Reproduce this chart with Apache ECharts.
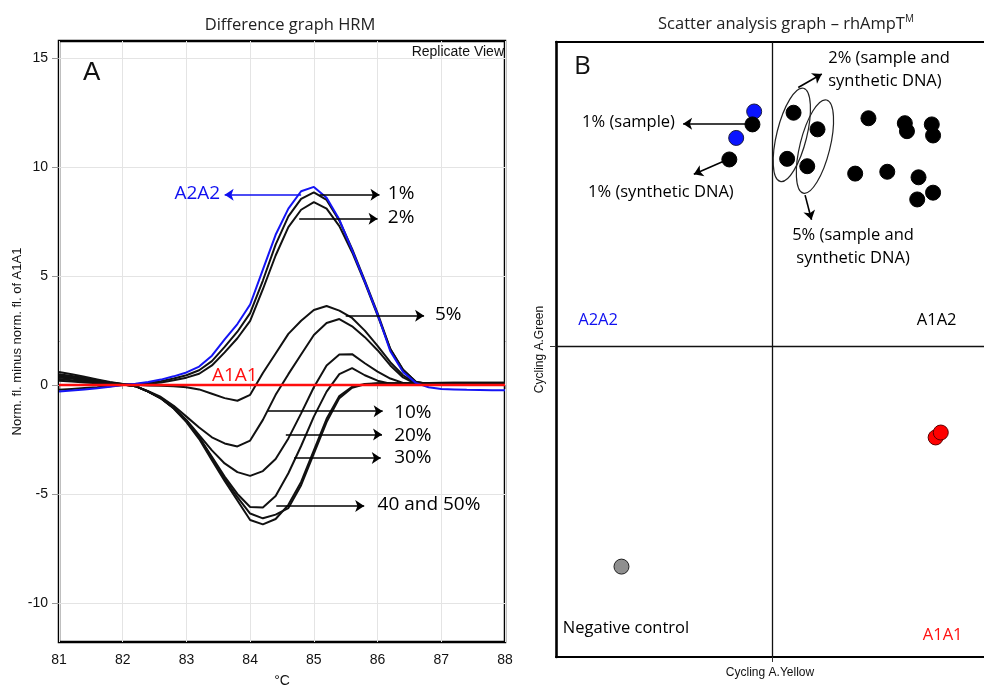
<!DOCTYPE html>
<html><head><meta charset="utf-8">
<script src="https://cdn.jsdelivr.net/npm/echarts@6/dist/echarts.min.js"></script>
<style>html,body{margin:0;padding:0;background:#fff}#c{width:984px;height:693px}</style>
</head><body><div id="c"></div>
<script>
// ---------- Panel A: difference graph HRM ----------
const temps = [81.0,81.2,81.4,81.6,81.8,82.0,82.2,82.4,82.6,82.8,83.0,83.2,83.4,83.6,83.8,84.0,84.2,84.4,84.6,84.8,85.0,85.2,85.4,85.6,85.8,86.0,86.2,86.4,86.6,86.8,87.0,87.2,87.4,87.6,87.8,88.0];
const curveA2A2 = [-0.30,-0.25,-0.20,-0.15,-0.08,0.00,0.06,0.14,0.25,0.40,0.58,0.85,1.35,2.10,2.80,3.70,5.30,6.90,8.10,8.90,9.10,8.60,7.60,6.20,4.75,3.25,1.55,0.60,0.10,-0.10,-0.18,-0.20,-0.22,-0.23,-0.24,-0.24];
const curveA1A1 = [0,0,0,0,0,0,0,0,0,0,0,0,0,0,0,0,0,0,0,0,0,0,0,0,0,0,0,0,0,0,0,0,0,0,0,0];
const curve1 = [-0.22,-0.18,-0.14,-0.10,-0.05,0.00,0.04,0.10,0.18,0.30,0.45,0.68,1.10,1.75,2.45,3.30,4.80,6.45,7.75,8.55,8.85,8.50,7.55,6.25,4.80,3.30,1.65,0.70,0.15,0.04,0.02,0.02,0.02,0.03,0.03,0.03];
const curve2 = [0.20,0.16,0.12,0.08,0.04,0.02,0.02,0.06,0.12,0.22,0.34,0.52,0.90,1.50,2.15,2.95,4.40,5.95,7.25,8.05,8.40,8.10,7.30,6.10,4.70,3.20,1.65,0.70,0.15,0.05,0.03,0.03,0.04,0.04,0.04,0.04];
const curve5 = [0.40,0.33,0.26,0.19,0.11,0.05,0.01,-0.02,-0.03,-0.05,-0.10,-0.20,-0.40,-0.60,-0.72,-0.45,0.55,1.45,2.35,2.95,3.45,3.63,3.42,3.08,2.50,1.80,1.05,0.45,0.08,0.04,0.03,0.03,0.04,0.05,0.05,0.05];
const curve10 = [0.50,0.42,0.32,0.22,0.12,0.04,-0.05,-0.28,-0.55,-0.95,-1.45,-1.95,-2.40,-2.68,-2.82,-2.55,-1.60,-0.45,0.50,1.40,2.30,2.85,3.03,2.70,2.20,1.60,0.90,0.35,0.06,0.04,0.04,0.05,0.05,0.06,0.06,0.06];
const curve20 = [0.60,0.50,0.38,0.26,0.14,0.05,-0.05,-0.30,-0.60,-1.05,-1.60,-2.30,-3.00,-3.60,-4.00,-4.17,-3.95,-3.40,-2.45,-1.30,-0.10,0.90,1.40,1.42,1.00,0.62,0.30,0.10,0.03,0.04,0.05,0.05,0.06,0.06,0.06,0.06];
const curve30 = [0.45,0.38,0.30,0.20,0.10,0.03,-0.05,-0.30,-0.60,-1.05,-1.65,-2.40,-3.30,-4.20,-5.00,-5.60,-5.62,-5.10,-4.05,-2.80,-1.45,-0.30,0.50,0.78,0.45,0.20,0.06,0.03,0.03,0.04,0.05,0.05,0.05,0.06,0.06,0.06];
const curve40 = [0.35,0.29,0.23,0.16,0.09,0.03,-0.05,-0.30,-0.60,-1.05,-1.65,-2.40,-3.35,-4.30,-5.15,-5.90,-6.12,-5.95,-5.65,-4.60,-3.15,-1.70,-0.60,-0.12,0.03,0.07,0.08,0.08,0.08,0.09,0.09,0.10,0.10,0.10,0.10,0.10];
const curve50 = [0.28,0.22,0.17,0.12,0.07,0.02,-0.05,-0.30,-0.62,-1.08,-1.70,-2.48,-3.45,-4.40,-5.30,-6.20,-6.40,-6.15,-5.50,-4.45,-3.00,-1.55,-0.50,-0.08,0.05,0.08,0.08,0.08,0.09,0.09,0.10,0.10,0.10,0.10,0.11,0.11];
const yTicksA = [-10,-5,0,5,10,15];

// ---------- Panel B: scatter analysis ----------
const ptsA2A2 = [[46.3,88.7],[42.1,84.4]];
const ptsA1A2 = [[45.9,86.6],[40.5,80.9],[55.5,88.5],[54.0,81.0],[61.1,85.8],[58.7,79.8],[73.0,87.6],[81.5,86.8],[82.0,85.5],[87.8,86.6],[88.1,84.8],[69.9,78.6],[77.4,78.9],[84.7,78.0],[84.4,74.4],[88.1,75.5]];
const ptsA1A1 = [[88.7,35.7],[89.9,36.5]];
const ptsNeg = [[15.3,14.7]];
const thresholdX = 50.6;
const thresholdY = 50.5;

// annotations (data coordinates)
const arrowsA = [[84.8,8.74,83.6,8.74,'#1010f0'],[85.09,8.74,86.03,8.74,'#000'],[84.77,7.64,86.0,7.64,'#000'],[85.5,3.18,86.73,3.18,'#000'],[84.28,-1.2,86.08,-1.2,'#000'],[84.56,-2.27,86.07,-2.27,'#000'],[84.69,-3.35,86.05,-3.35,'#000'],[84.41,-5.55,85.79,-5.55,'#000']];
const notesA = [['A2A2',83.53,8.78,'#1010f0','right'],['1%',86.16,8.78,'#000','left'],['2%',86.16,7.68,'#000','left'],['5%',86.9,3.22,'#000','left'],['10%',86.26,-1.25,'#000','left'],['20%',86.26,-2.3,'#000','left'],['30%',86.26,-3.35,'#000','left'],['40 and 50%',86.0,-5.5,'#000','left'],['A1A1',83.4,0.45,'#ff1010','left']];
const arrowsB = [[45.9,86.7,29.7,86.7],[40.5,81.0,32.2,78.5],[56.6,92.6,62.1,94.8],[58.2,75.1,59.7,71.1]];
const notesB = [['1% (sample)',27.8,86.9,'#000','right'],['1% (synthetic DNA)',24.5,75.5,'#000','center'],['2% (sample and\nsynthetic DNA)',63.6,95.5,'#000','left'],['5% (sample and\nsynthetic DNA)',69.4,66.7,'#000','center'],['A2A2',5.2,54.7,'#1010f0','left'],['A1A2',84.3,54.7,'#000','left'],['Negative control',1.6,4.7,'#000','left'],['A1A1',85.7,3.6,'#ff1010','left']];
const ellipsesB = [[55.1,84.9],[60.5,83.0]];

const pair = arr => temps.map((t,i)=>[t,arr[i]]);
const lineS = (name, arr, color, w, z) => ({name, type:'line', xAxisIndex:0, yAxisIndex:0, data:pair(arr), symbol:'none', smooth:false, lineStyle:{color, width:w}, z, silent:true});
const noteSeries = (notes, idx, size) => ({type:'scatter', xAxisIndex:idx, yAxisIndex:idx, symbolSize:0, z:20, silent:true,
  itemStyle:{color:'#000'},
  data: notes.map(n=>({value:[n[1],n[2]], label:{show:true, position:'inside', formatter:n[0], color:n[3], align:n[4], verticalAlign:'middle',
    fontFamily:'Open Sans', fontSize:size, lineHeight:23, textBorderWidth:0, textBorderColor:'transparent', opacity:1}}))});
const arrowSeries = (arrows, idx) => ({type:'line', xAxisIndex:idx, yAxisIndex:idx, data:[], z:15, silent:true,
  markLine:{silent:true, symbol:['none','arrow'], symbolSize:9, label:{show:false}, animation:false,
    data: arrows.map(a=>[{coord:[a[0],a[1]], lineStyle:{color:a[4]||'#000', width:1.6, type:'solid'}},{coord:[a[2],a[3]]}])}});
const ptS = (data, color, border) => ({type:'scatter', xAxisIndex:1, yAxisIndex:1, data, symbolSize:15, z:10, silent:true, itemStyle:{color, borderColor:border, borderWidth:1, opacity:1}});
const frameLine = {show:true, onZero:false, lineStyle:{color:'#000', width:2.2}};

const option = {
  animation:false,
  backgroundColor:'#fff',
  grid:[
    {left:59, top:41, width:446, height:612, show:true, borderColor:'#000', borderWidth:2.5, backgroundColor:'transparent'},
    {left:556, top:42, right:0, height:615, show:false}
  ],
  xAxis:[
    {type:'value', gridIndex:0, min:81, max:88, interval:1, name:'°C', nameLocation:'middle', nameGap:32,
     nameTextStyle:{fontFamily:'Liberation Sans', fontSize:14, color:'#111'},
     axisLine:{show:false}, axisTick:{show:true, length:4, lineStyle:{color:'#999'}},
     axisLabel:{fontFamily:'Liberation Sans', fontSize:14, color:'#111', margin:11},
     splitLine:{show:true, lineStyle:{color:'#e4e4e4', width:1}}},
    {type:'value', gridIndex:1, min:0, max:100, position:'bottom', name:'Cycling A.Yellow', nameLocation:'middle', nameGap:10,
     nameTextStyle:{fontFamily:'Liberation Sans', fontSize:12, color:'#111'},
     axisLine:frameLine, axisTick:{show:true, customValues:[thresholdX], length:5, lineStyle:{color:'#333'}},
     axisLabel:{show:false}, splitLine:{show:false}},
    {type:'value', gridIndex:1, min:0, max:100, position:'top',
     axisLine:frameLine, axisTick:{show:false}, axisLabel:{show:false}, splitLine:{show:false}}
  ],
  yAxis:[
    {type:'value', gridIndex:0, min:-11.8, max:15.8, name:'Norm. fl. minus norm. fl. of A1A1', nameLocation:'middle', nameGap:33, nameRotate:90,
     nameTextStyle:{fontFamily:'Liberation Sans', fontSize:13, color:'#111'},
     axisLine:{show:false}, axisTick:{show:true, customValues:yTicksA, length:7, lineStyle:{color:'#999'}},
     axisLabel:{customValues:yTicksA, fontFamily:'Liberation Sans', fontSize:14, color:'#111', margin:11},
     splitLine:{show:true, lineStyle:{color:'#e4e4e4', width:1}}},
    {type:'value', gridIndex:1, min:0, max:100, position:'left', name:'Cycling A.Green', nameLocation:'middle', nameGap:10, nameRotate:90,
     nameTextStyle:{fontFamily:'Liberation Sans', fontSize:12, color:'#111'},
     axisLine:{show:true, onZero:false, lineStyle:{color:'#000', width:2.6}}, axisTick:{show:true, customValues:[thresholdY], length:6, lineStyle:{color:'#333'}},
     axisLabel:{show:false}, splitLine:{show:false}}
  ],
  series:[
    lineS('1%', curve1, '#111', 2, 3),
    lineS('2%', curve2, '#111', 2, 3),
    lineS('5%', curve5, '#111', 2, 3),
    lineS('10%', curve10, '#111', 2, 3),
    lineS('20%', curve20, '#111', 2, 3),
    lineS('30%', curve30, '#111', 2, 3),
    lineS('40%', curve40, '#111', 2, 3),
    lineS('50%', curve50, '#111', 2, 3),
    lineS('A2A2', curveA2A2, '#1414f5', 2, 4),
    lineS('A1A1', curveA1A1, '#ff0d0d', 2.5, 5),
    arrowSeries(arrowsA, 0),
    noteSeries(notesA, 0, 19),
    // panel B
    {type:'line', xAxisIndex:1, yAxisIndex:1, data:[], z:2, silent:true,
     markLine:{silent:true, symbol:['none','none'], label:{show:false}, animation:false,
       lineStyle:{color:'#111', width:1.3, type:'solid'},
       data:[{xAxis:thresholdX},{yAxis:thresholdY}]}},
    ptS(ptsA2A2, '#0a14ff', '#1a1a40'),
    ptS(ptsA1A2, '#000', '#000'),
    ptS(ptsA1A1, '#ff0000', '#5a0000'),
    ptS(ptsNeg, '#8f8f8f', '#222'),
    arrowSeries(arrowsB, 1),
    noteSeries(notesB, 1, 16.5)
  ]
};

const chart = echarts.init(document.getElementById('c'), null, {renderer:'canvas'});
chart.setOption(option);

const ellGraphics = ellipsesB.map(e=>{
  const p = chart.convertToPixel({seriesIndex:16}, e);
  return {type:'ellipse', x:p[0], y:p[1], rotation:-14*Math.PI/180, shape:{cx:0, cy:0, rx:15, ry:48},
          style:{fill:'none', stroke:'#222', lineWidth:1.2}, silent:true, z:50};
});
chart.setOption({graphic:[
  {type:'text', x:290, y:25, style:{text:'Difference graph HRM', font:'16.5px "Open Sans"', fill:'#222', align:'center', verticalAlign:'middle'}, silent:true},
  {type:'text', x:786, y:24, style:{text:'{a|Scatter analysis graph – rhAmpT}{s|M}', align:'center', verticalAlign:'middle',
     rich:{a:{fontFamily:'Open Sans', fontSize:16.5, fill:'#222'}, s:{fontFamily:'Open Sans', fontSize:10, fill:'#222', padding:[0,0,10,0]}}}, silent:true},
  {type:'text', x:83, y:73, style:{text:'A', font:'26px "Liberation Sans"', fill:'#111', align:'left', verticalAlign:'middle'}, silent:true},
  {type:'text', x:574, y:67, style:{text:'B', font:'26px "Open Sans"', fill:'#111', align:'left', verticalAlign:'middle'}, silent:true},
  {type:'text', x:504, y:52, style:{text:'Replicate View', font:'14px "Liberation Sans"', fill:'#111', align:'right', verticalAlign:'middle'}, silent:true}
].concat(ellGraphics)});
</script>
</body></html>
